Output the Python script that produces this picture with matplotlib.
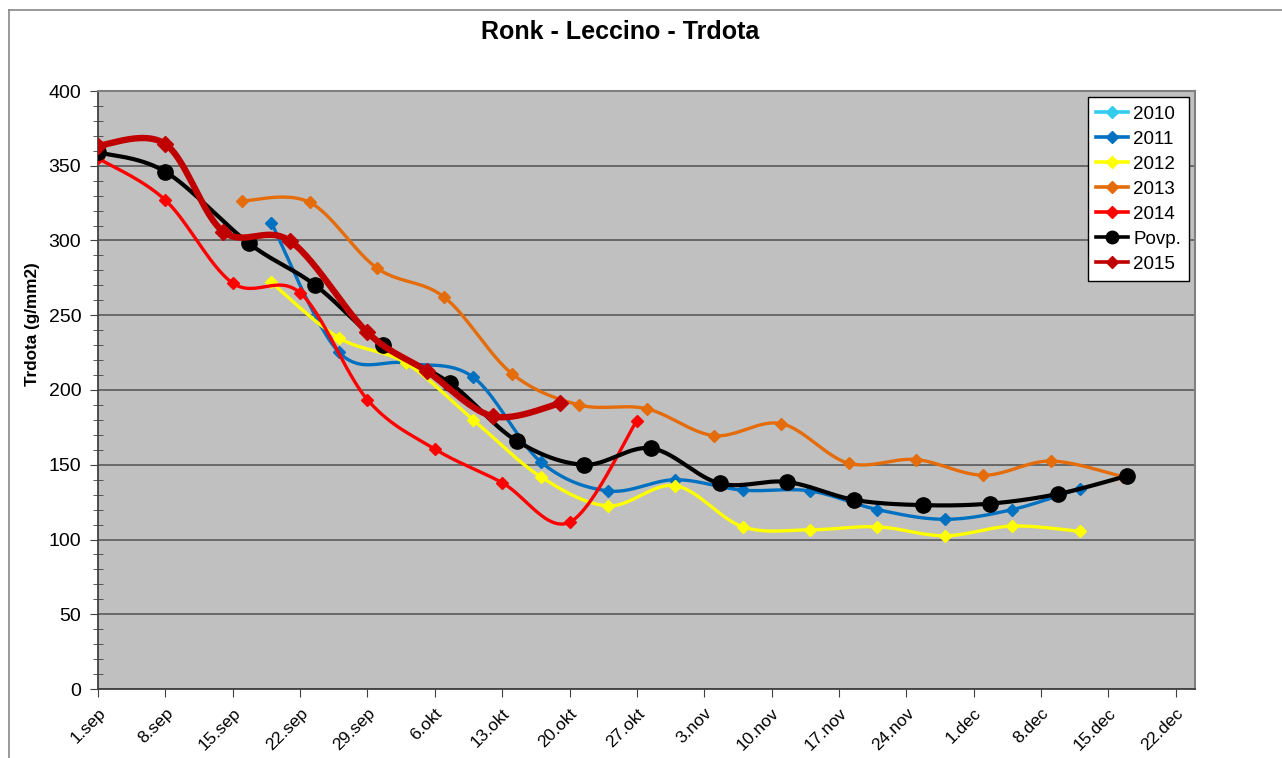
import matplotlib
matplotlib.use("Agg")
import matplotlib.pyplot as plt
from matplotlib.lines import Line2D
import numpy as np

plt.rcParams['font.family'] = ['Liberation Sans', 'DejaVu Sans']

# days after 1. september
tick_days = [0, 7, 14, 21, 28, 35, 42, 49, 56, 63, 70, 77, 84, 91, 98, 105, 112]
tick_labels = ["1.sep", "8.sep", "15.sep", "22.sep", "29.sep", "6.okt", "13.okt",
               "20.okt", "27.okt", "3.nov", "10.nov", "17.nov", "24.nov", "1.dec",
               "8.dec", "15.dec", "22.dec"]

days_2010 = []
vals_2010 = []

days_2011 = [18, 25, 32, 39, 46, 53, 60, 67, 74, 81, 88, 95, 102]
vals_2011 = [312, 225.5, 218, 208.5, 152, 132.5, 140, 133, 132.5, 120, 113.5, 120, 134]

days_2012 = [18, 25, 32, 39, 46, 53, 60, 67, 74, 81, 88, 95, 102]
vals_2012 = [272, 235, 218, 180, 142, 122.5, 136, 108.5, 106.5, 108.5, 102.5, 109, 105.5]

days_2013 = [15, 22, 29, 36, 43, 50, 57, 64, 71, 78, 85, 92, 99, 106.5]
vals_2013 = [326.5, 325.5, 281.5, 262, 211, 190, 187.5, 169.5, 177.5, 151, 153.5, 143, 152.5, 142]

days_2014 = [0, 7, 14, 21, 28, 35, 42, 49, 56]
vals_2014 = [355, 327, 271.5, 265, 193.5, 160.5, 138, 111.5, 179.5]

days_povp = [0, 7, 15.7, 22.6, 29.6, 36.6, 43.5, 50.5, 57.5, 64.6, 71.6, 78.6, 85.7, 92.7, 99.8, 106.9]
vals_povp = [359, 346, 298, 270, 230, 204.5, 166, 150, 161, 137.5, 138.5, 126.5, 123, 124, 130.5, 142.5]

days_2015 = [0, 7, 13, 20, 28, 34.2, 41, 48]
vals_2015 = [363.5, 364.5, 306, 299.5, 238.5, 212.5, 182.5, 191]


def smooth(xs, ys, steps=30):
    # Excel style smoothed line (Bezier through the points)
    xs = np.asarray(xs, float)
    ys = np.asarray(ys, float)
    if len(xs) < 3:
        return xs, ys
    p = np.column_stack([xs, ys])
    out = [p[0]]
    t = np.linspace(0, 1, steps)[1:, None]
    for i in range(len(p) - 1):
        p0 = p[i - 1] if i > 0 else p[i]
        p1 = p[i]
        p2 = p[i + 1]
        p3 = p[i + 2] if i + 2 < len(p) else p[i + 1]
        c1 = p1 + (p2 - p0) / 6.0
        c2 = p2 - (p3 - p1) / 6.0
        seg = ((1 - t) ** 3) * p1 + 3 * ((1 - t) ** 2) * t * c1 + 3 * (1 - t) * t ** 2 * c2 + t ** 3 * p2
        out.extend(seg)
    out = np.array(out)
    return out[:, 0], out[:, 1]


series = [
    ("2010", days_2010, vals_2010, "#33CCEE", 2.4, "D", 6),
    ("2011", days_2011, vals_2011, "#0070C0", 2.4, "D", 6),
    ("2012", days_2012, vals_2012, "#FFFF00", 2.4, "D", 6),
    ("2013", days_2013, vals_2013, "#E46C0A", 2.4, "D", 6),
    ("2014", days_2014, vals_2014, "#FF0000", 2.4, "D", 6),
    ("Povp.", days_povp, vals_povp, "#000000", 3.0, "o", 11),
    ("2015", days_2015, vals_2015, "#C00000", 4.6, "D", 8.5),
]

fig = plt.figure(figsize=(12.82, 7.58), dpi=100)
ax = fig.add_axes([98 / 1282, 1 - 689 / 758, 1097 / 1282, 598 / 758])
ax.set_facecolor("#C0C0C0")

handles = []
for name, d, v, col, lw, mk, ms in series:
    sx, sy = smooth(d, v)
    ax.plot(sx, sy, color=col, lw=lw, solid_capstyle="round", zorder=3)
    ax.plot(d, v, ls="none", marker=mk, ms=ms, color=col, zorder=3)
    handles.append(Line2D([], [], color=col, lw=2.6, marker=mk,
                          ms=6 if mk == "D" else 9, label=name))

ax.set_xlim(0, 114)
ax.set_ylim(0, 400)
ax.set_yticks(np.arange(0, 401, 50))
ax.set_yticks(np.arange(0, 401, 10), minor=True)
ax.yaxis.grid(True, color="#505050", lw=1.1)
ax.set_axisbelow(True)
ax.set_xticks(tick_days)
ax.set_xticklabels(tick_labels, rotation=45, ha="right", rotation_mode="anchor")
ax.tick_params(axis="y", which="major", direction="out", length=6, labelsize=14,
               color="#404040", pad=6)
ax.tick_params(axis="y", which="minor", direction="inout", length=7, color="#404040")
ax.tick_params(axis="x", which="major", direction="out", length=6, labelsize=12.5,
               color="#404040", pad=6)
for s in ["left", "bottom"]:
    ax.spines[s].set_color("#404040")
    ax.spines[s].set_linewidth(1.3)
for s in ["top", "right"]:
    ax.spines[s].set_color("#808080")
    ax.spines[s].set_linewidth(1.5)

leg = ax.legend(handles=handles, loc="upper left", bbox_to_anchor=(0.9025, 0.99),
                borderaxespad=0, fontsize=13.5, handlelength=1.7, handletextpad=0.25,
                labelspacing=0.42, borderpad=0.45, fancybox=False, framealpha=1,
                edgecolor="black")
leg.get_frame().set_linewidth(1.0)

fig.text(620 / 1282, 1 - 32 / 758, "Ronk - Leccino - Trdota", ha="center", va="center",
         fontsize=18, fontweight="bold")
fig.text(32 / 1282, 1 - 324 / 758, "Trdota (g/mm2)", ha="center", va="center",
         rotation=90, fontsize=12.3, fontweight="bold")

# chart area border (only top and left visible)
fig.add_artist(Line2D([9 / 1282, 9 / 1282], [0, 1 - 10 / 758], color="#888888", lw=1.2))
fig.add_artist(Line2D([9 / 1282, 1], [1 - 10 / 758, 1 - 10 / 758], color="#888888", lw=1.2))

fig.savefig("out.png", dpi=100)
